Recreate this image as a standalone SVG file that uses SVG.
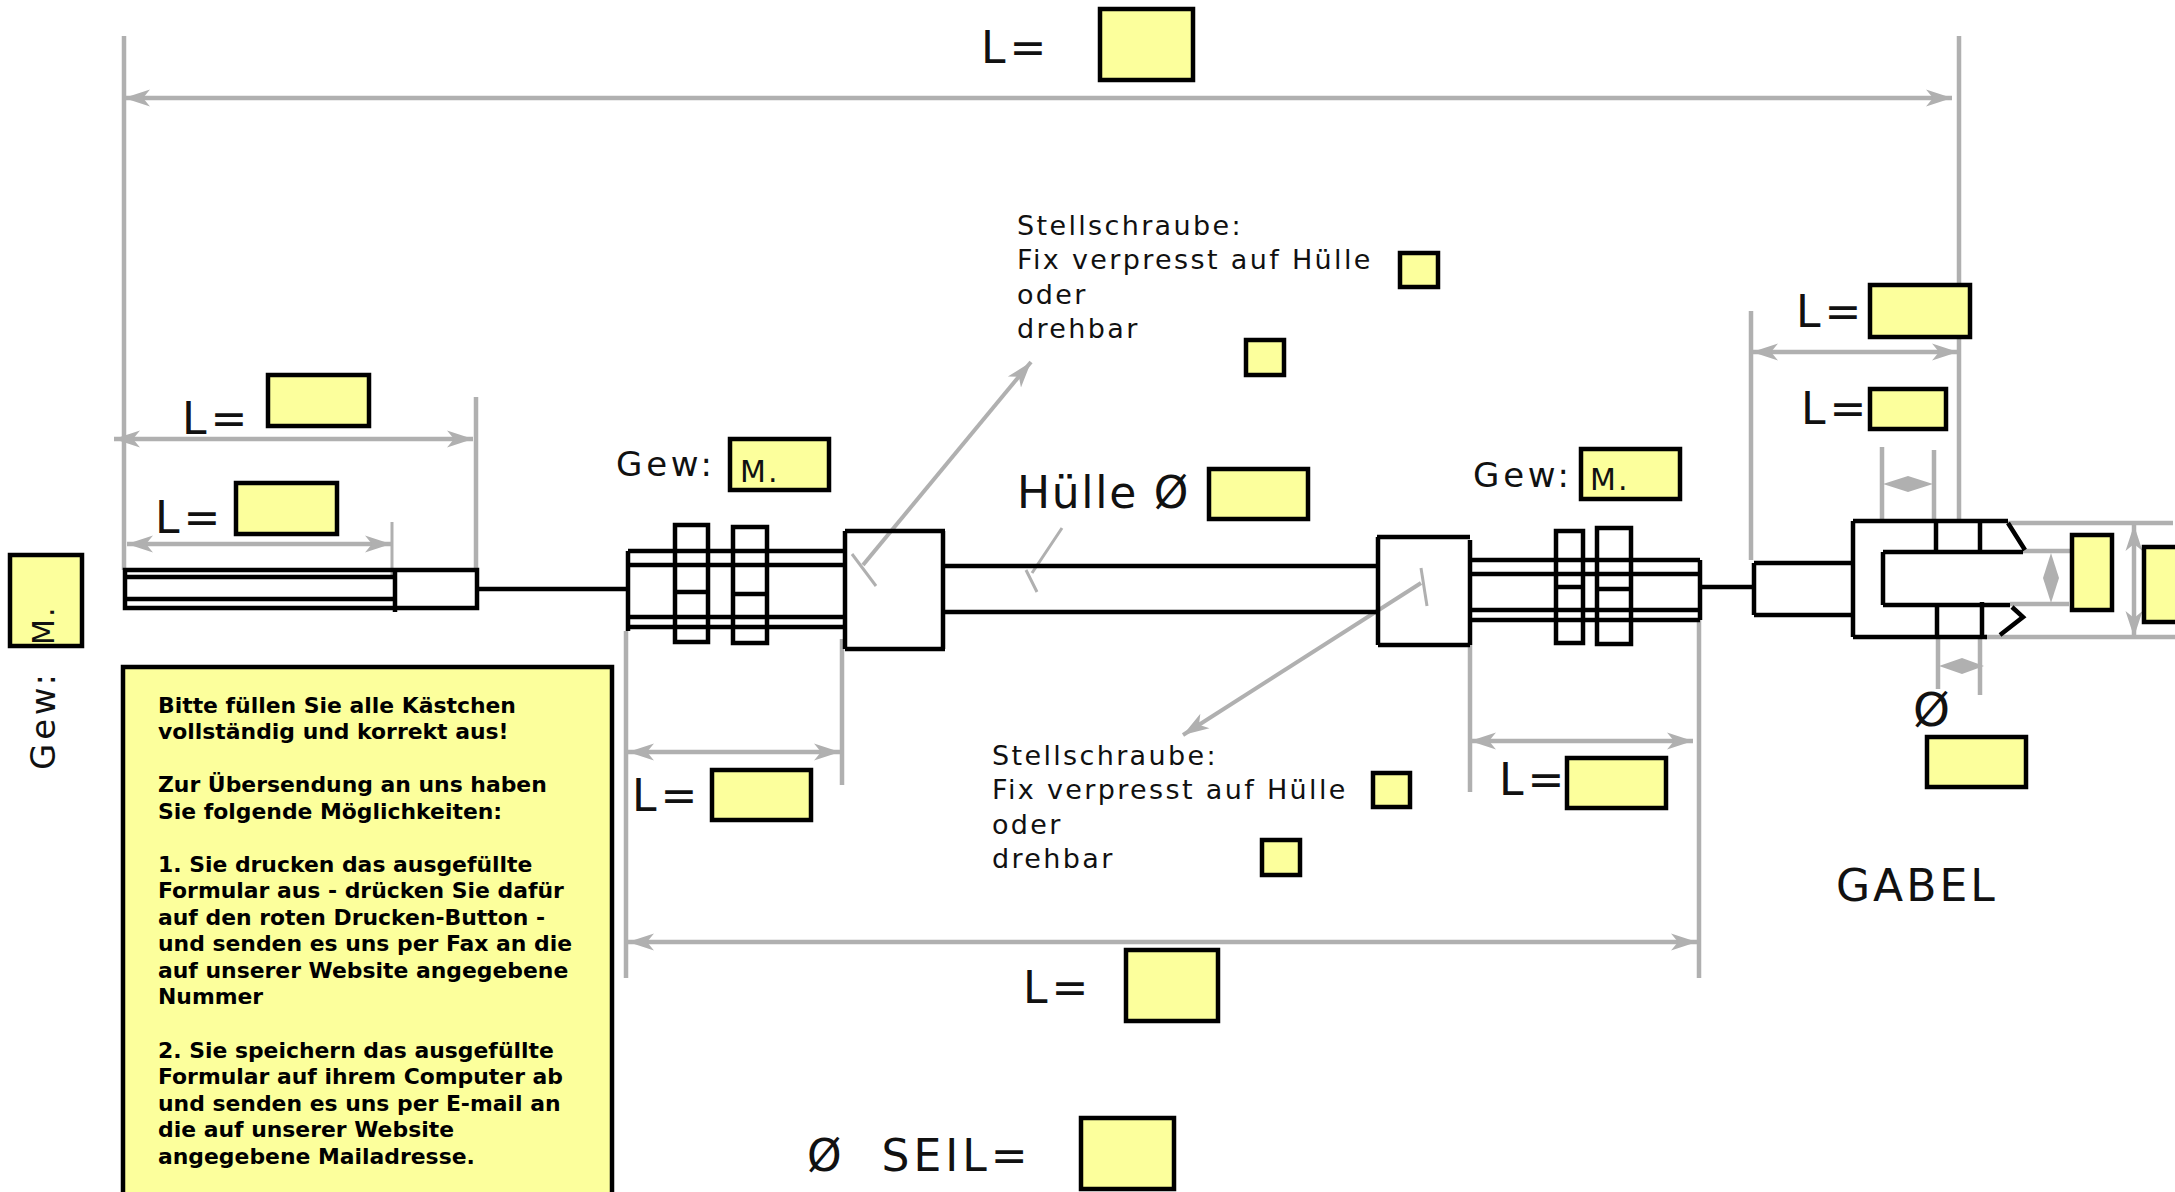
<svg xmlns="http://www.w3.org/2000/svg" width="2175" height="1192" viewBox="0 0 2175 1192">
<style>
text{font-family:"DejaVu Sans",Verdana,sans-serif;fill:#111}
.b{fill:#fcff9c;stroke:#000;stroke-width:4.5}
.k{fill:none;stroke:#000;stroke-width:4.5}
.g{fill:none;stroke:#b0b0b0;stroke-width:4.5}
.t{fill:none;stroke:#b0b0b0;stroke-width:3}
.d{fill:none;stroke:#b0b0b0;stroke-width:4.5;marker-start:url(#a);marker-end:url(#a)}
.a1{fill:none;stroke:#b0b0b0;stroke-width:4;marker-end:url(#a)}
.L{font-size:44px;letter-spacing:4px}
.G{font-size:34px;letter-spacing:3.8px}
.M{font-size:30px;letter-spacing:2px}
.S{font-size:27px;letter-spacing:2.35px}
.I{font-size:21.9px;font-weight:bold;fill:#000}
</style>
<defs>
<marker id="a" markerUnits="userSpaceOnUse" markerWidth="30" markerHeight="26" refX="26" refY="13" orient="auto-start-reverse">
<path d="M26 13L0 4.500L7 13L0 21.500Z" fill="#b0b0b0"/>
</marker>
</defs>
<g id="connectors">
<path class="g" d="M124 36V570M1959 36V520M476 397V570M1751 311V560"/>
<path class="t" d="M392 522V577"/>
<path class="g" d="M626 631V978M842 639V785M1470 645V792M1699 620V978"/>
<path class="d" d="M124 98H1952"/>
<path class="d" d="M114 439H473"/>
<path class="d" d="M127 544H391"/>
<path class="d" d="M628 752H840"/>
<path class="d" d="M1470 741H1693"/>
<path class="d" d="M628 942H1697"/>
<path class="d" d="M1752 352H1958"/>
<path class="g" d="M1882 447V520M1934 450V522M1938 637V689M1980 637V695"/>
<path d="M1883 484L1908 476L1933 484L1908 492Z" fill="#b0b0b0"/>
<path d="M1939 666L1962 658L1984 666L1962 674Z" fill="#b0b0b0"/>
<path class="g" d="M2008 523H2173M2023 551H2070M2010 604H2069M1985 637H2175"/>
<path d="M2051 553L2059 578L2051 603L2043 578Z" fill="#b0b0b0"/>
<path class="d" d="M2134 525V637"/>
<path class="a1" d="M863 565L1031 362"/>
<path class="t" d="M852 554L876 586"/>
<path class="t" d="M1062 528L1032 573M1026 570L1037 592"/>
<path class="a1" d="M1421 583L1183 735"/>
<path class="t" d="M1421 568L1427 606"/>
</g>
<g id="left-end">
<path class="k" d="M125 570H477V608H125ZM125 577H395M125 599H395M395 570V612M479 589H628"/>
</g>
<g id="left-thread">
<path class="k" d="M628 551V631M628 551H845M628 565H845M628 617H845M628 627H845"/>
<rect class="k" x="675" y="525" width="33" height="117"/>
<path class="k" d="M675 592H708"/>
<rect class="k" x="733" y="527" width="34" height="116"/>
<path class="k" d="M733 594H767"/>
</g>
<g id="left-block"><path class="k" d="M845 531H945M845 649H945M845 531V649M943 531V649"/></g>
<g id="sleeve"><path class="k" d="M943 566H1377M943 612H1377"/></g>
<g id="right-block"><path class="k" d="M1377 537H1470M1378 645H1470M1378 537V645M1470 540V645"/></g>
<g id="right-thread">
<path class="k" d="M1470 560H1700M1470 574H1700M1470 610H1700M1470 620H1700M1700 560V620M1700 587H1752"/>
<rect class="k" x="1556" y="531" width="27" height="112"/>
<path class="k" d="M1556 587H1583"/>
<rect class="k" x="1597" y="528" width="34" height="116"/>
<path class="k" d="M1597 589H1631"/>
</g>
<g id="fork">
<path class="k" d="M1754 563V615M1754 563H1853M1754 615H1853M1853 521V637M1853 521H2008M1853 637H1987M1883 552V605M1883 552H2023M1883 605H2010M1936 521V552M1980 521V552M1937 605V637M1982 602V637M2008 523L2025 550M2012 607L2023 617L2000 635"/>
</g>
<g id="box-top"><text class="L" x="981" y="63">L=</text><rect class="b" x="1100" y="9" width="93" height="71"/></g>
<g id="box-l1"><text class="L" x="182" y="434">L=</text><rect class="b" x="268" y="375" width="101" height="51"/></g>
<g id="box-l2"><text class="L" x="155" y="533">L=</text><rect class="b" x="236" y="483" width="101" height="51"/></g>
<g id="box-gew-left"><rect class="b" x="10" y="555" width="72" height="91"/><text class="G" transform="translate(55 770) rotate(-90)">Gew:</text><text class="M" transform="translate(54 645) rotate(-90)">M.</text></g>
<g id="box-gew-1"><text class="G" x="616" y="476">Gew:</text><rect class="b" x="730" y="439" width="99" height="51"/><text class="M" x="740" y="482">M.</text></g>
<g id="box-l3"><text class="L" x="632" y="811">L=</text><rect class="b" x="712" y="770" width="99" height="50"/></g>
<g id="box-stell-1">
<text class="S" x="1017" y="235">Stellschraube:</text><text class="S" x="1017" y="269">Fix verpresst auf Hülle</text><text class="S" x="1017" y="304">oder</text><text class="S" x="1017" y="338">drehbar</text>
<rect class="b" x="1400" y="253" width="38" height="34"/><rect class="b" x="1246" y="340" width="38" height="35"/>
</g>
<g id="box-huelle"><text class="L" style="letter-spacing:1.7px" x="1017" y="508">Hülle Ø</text><rect class="b" x="1209" y="469" width="99" height="50"/></g>
<g id="box-gew-2"><text class="G" x="1473" y="487">Gew:</text><rect class="b" x="1581" y="449" width="99" height="50"/><text class="M" x="1590" y="490">M.</text></g>
<g id="box-stell-2">
<text class="S" x="992" y="765">Stellschraube:</text><text class="S" x="992" y="799">Fix verpresst auf Hülle</text><text class="S" x="992" y="834">oder</text><text class="S" x="992" y="868">drehbar</text>
<rect class="b" x="1373" y="773" width="37" height="34"/><rect class="b" x="1262" y="840" width="38" height="35"/>
</g>
<g id="box-l4"><text class="L" x="1499" y="795">L=</text><rect class="b" x="1567" y="758" width="99" height="50"/></g>
<g id="box-l5"><text class="L" x="1023" y="1003">L=</text><rect class="b" x="1126" y="950" width="92" height="71"/></g>
<g id="box-seil"><text class="L" x="807" y="1171" xml:space="preserve">Ø  SEIL=</text><rect class="b" x="1081" y="1118" width="93" height="71"/></g>
<g id="box-l6"><text class="L" x="1796" y="327">L=</text><rect class="b" x="1870" y="285" width="100" height="52"/></g>
<g id="box-l7"><text class="L" x="1801" y="424">L=</text><rect class="b" x="1870" y="389" width="76" height="40"/></g>
<g id="box-d1"><rect class="b" x="2072" y="535" width="40" height="75"/></g>
<g id="box-d2"><rect class="b" x="2144" y="547" width="40" height="75"/></g>
<g id="box-dia"><text class="L" style="font-size:47px;letter-spacing:0" x="1913" y="726">Ø</text><rect class="b" x="1927" y="737" width="99" height="50"/></g>
<g id="label-gabel"><text class="L" style="letter-spacing:3px" x="1836" y="901">GABEL</text></g>
<g id="info">
<rect class="b" x="123" y="667" width="489" height="540"/>
<text class="I" x="158" y="713">Bitte füllen Sie alle Kästchen</text>
<text class="I" x="158" y="739">vollständig und korrekt aus!</text>
<text class="I" x="158" y="792">Zur Übersendung an uns haben</text>
<text class="I" x="158" y="819">Sie folgende Möglichkeiten:</text>
<text class="I" x="158" y="872">1. Sie drucken das ausgefüllte</text>
<text class="I" x="158" y="898">Formular aus - drücken Sie dafür</text>
<text class="I" x="158" y="925">auf den roten Drucken-Button -</text>
<text class="I" x="158" y="951">und senden es uns per Fax an die</text>
<text class="I" x="158" y="978">auf unserer Website angegebene</text>
<text class="I" x="158" y="1004">Nummer</text>
<text class="I" x="158" y="1058">2. Sie speichern das ausgefüllte</text>
<text class="I" x="158" y="1084">Formular auf ihrem Computer ab</text>
<text class="I" x="158" y="1111">und senden es uns per E-mail an</text>
<text class="I" x="158" y="1137">die auf unserer Website</text>
<text class="I" x="158" y="1164">angegebene Mailadresse.</text>
</g>
</svg>
